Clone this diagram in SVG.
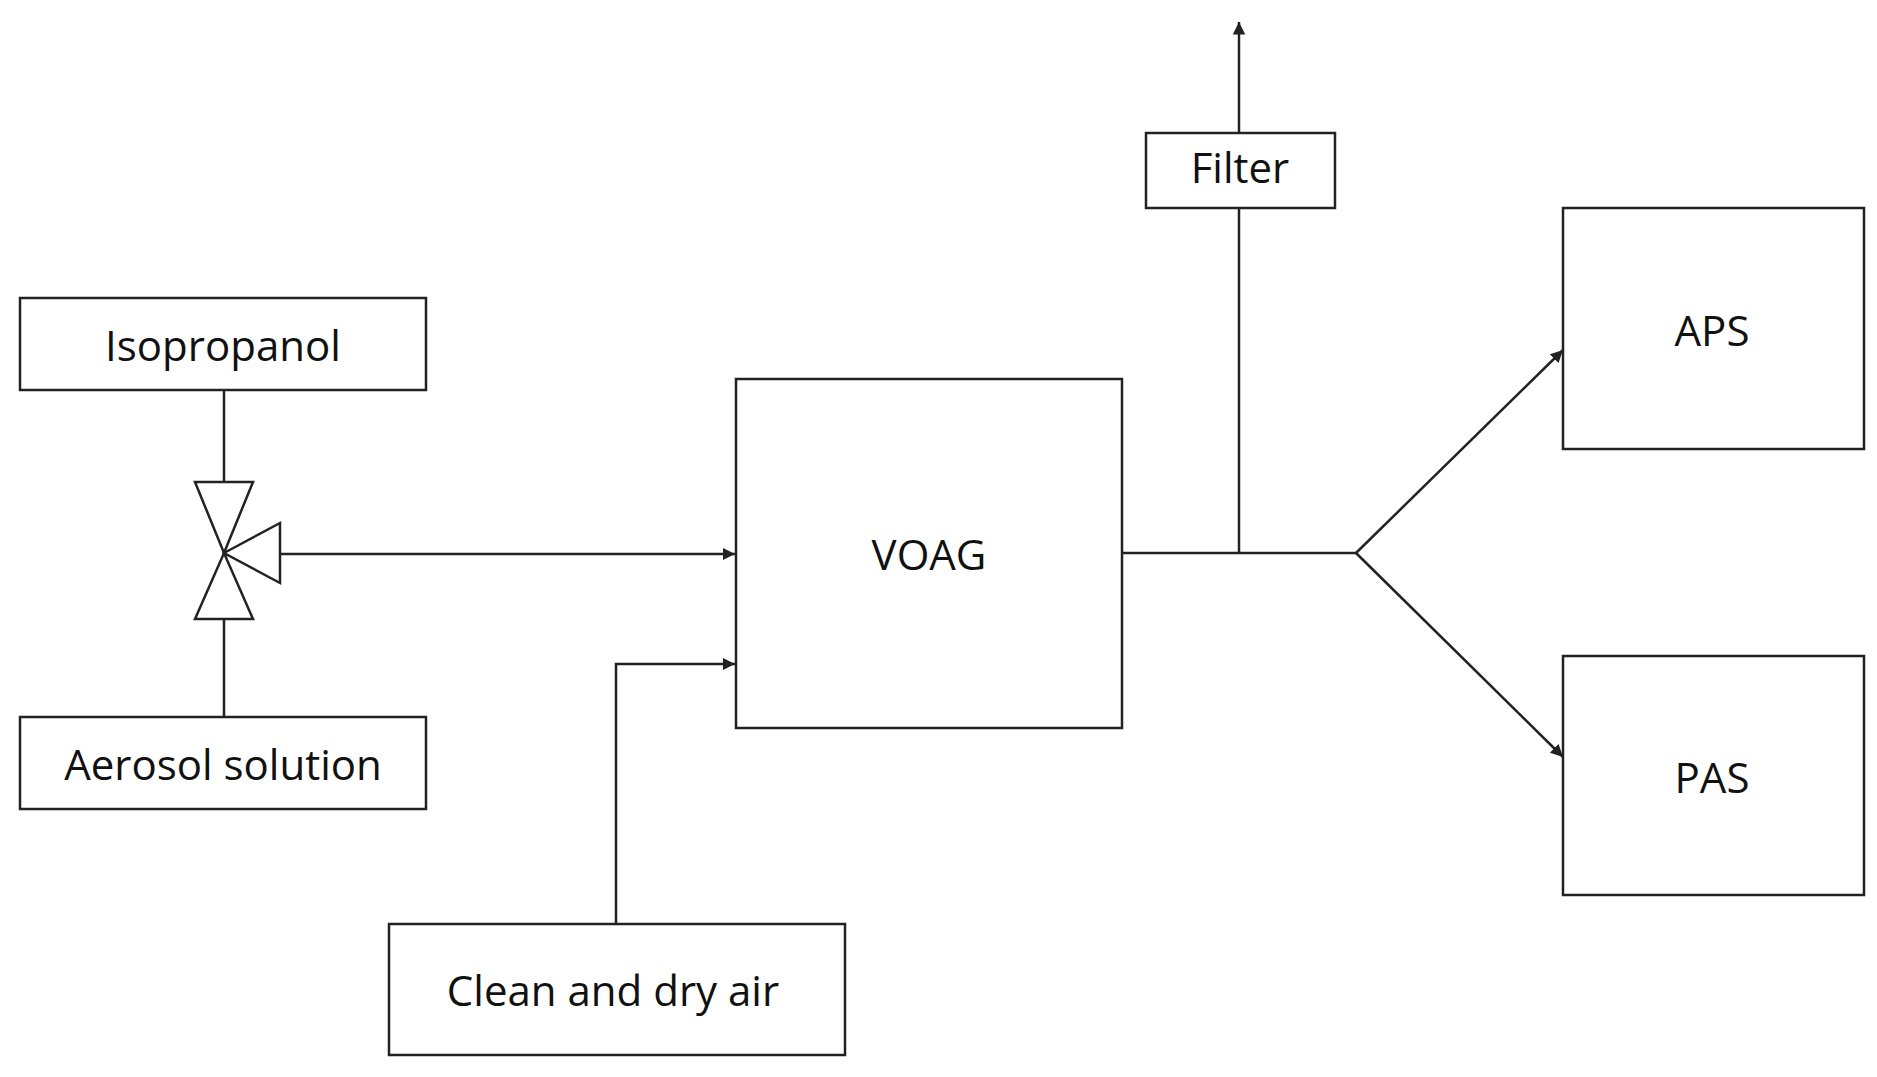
<svg xmlns="http://www.w3.org/2000/svg" width="1877" height="1077" viewBox="0 0 1877 1077">
<defs>
<style>
.b{fill:#fff;stroke:#222;stroke-width:2.5}
.t{font-family:"Open Sans",sans-serif;font-size:42px;fill:#111;text-anchor:middle;dominant-baseline:central}
.c{fill:none;stroke:#222;stroke-width:2.5}
</style>
<marker id="a" viewBox="0 0 10 10" refX="10" refY="5" markerWidth="5" markerHeight="5" orient="auto"><path d="M0,0L10,5L0,10z" fill="#222"/></marker>
</defs>
<rect width="1877" height="1077" fill="#fff"/>
<g id="connectors">
<path class="c" d="M224,390V482M224,619V717"/>
<path class="c" d="M280,554H735" marker-end="url(#a)"/>
<path class="c" d="M616,924V664H735" marker-end="url(#a)"/>
<path class="c" d="M1122,553H1356"/>
<path class="c" d="M1239,553V208"/>
<path class="c" d="M1239,133V22" marker-end="url(#a)"/>
<path class="c" d="M1356,553L1563,350" marker-end="url(#a)"/>
<path class="c" d="M1356,553L1563,757" marker-end="url(#a)"/>
</g>
<g id="valve">
<path class="b" d="M195,482H253L224,553ZM195,619H253L224,553ZM224,553L280,523V583Z"/>
</g>
<g id="isopropanol"><rect class="b" x="20" y="298" width="406" height="92"/><text class="t" x="223" y="344">Isopropanol</text></g>
<g id="aerosol"><rect class="b" x="20" y="717" width="406" height="92"/><text class="t" x="223" y="763">Aerosol solution</text></g>
<g id="voag"><rect class="b" x="736" y="379" width="386" height="349"/><text class="t" x="929" y="553">VOAG</text></g>
<g id="air"><rect class="b" x="389" y="924" width="456" height="131"/><text class="t" x="613" y="989">Clean and dry air</text></g>
<g id="filter"><rect class="b" x="1146" y="133" width="189" height="75"/><text class="t" x="1240" y="166">Filter</text></g>
<g id="aps"><rect class="b" x="1563" y="208" width="301" height="241"/><text class="t" x="1712" y="329">APS</text></g>
<g id="pas"><rect class="b" x="1563" y="656" width="301" height="239"/><text class="t" x="1712" y="776">PAS</text></g>
</svg>
